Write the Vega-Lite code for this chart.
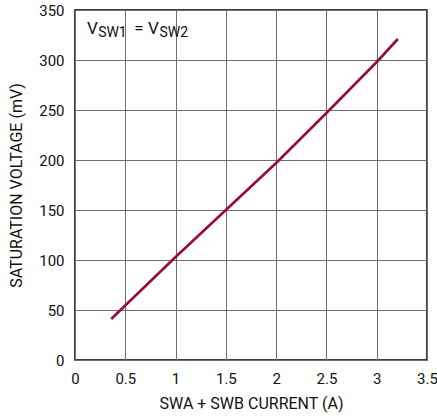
{
  "$schema": "https://vega.github.io/schema/vega-lite/v6.json",
  "width": 352,
  "height": 350,
  "autosize": {"type": "none"},
  "padding": {"left": 75, "right": 10, "top": 10, "bottom": 59},
  "background": "white",
  "config": {
    "font": "Roboto",
    "view": {"stroke": "#000000", "strokeWidth": 1.5},
    "axis": {
      "grid": true,
      "gridColor": "#6e6e6e",
      "gridWidth": 1,
      "gridOpacity": 1,
      "domain": false,
      "ticks": false,
      "labelFont": "Roboto",
      "labelFontSize": 15,
      "labelColor": "#111111",
      "titleFont": "Roboto",
      "titleFontSize": 16,
      "titleFontWeight": "normal",
      "titleColor": "#111111"
    }
  },
  "layer": [
    {
      "data": {
        "values": [
          {"current": 0.36, "voltage": 41},
          {"current": 1.0, "voltage": 103},
          {"current": 1.5, "voltage": 150},
          {"current": 2.0, "voltage": 197},
          {"current": 2.5, "voltage": 247},
          {"current": 3.0, "voltage": 298},
          {"current": 3.21, "voltage": 321}
        ]
      },
      "mark": {"type": "line", "color": "#9b0a3c", "strokeWidth": 2.6, "strokeCap": "butt"},
      "encoding": {
        "x": {
          "field": "current", "type": "quantitative",
          "scale": {"domain": [0, 3.5], "nice": false},
          "axis": {"values": [0, 0.5, 1, 1.5, 2, 2.5, 3, 3.5], "labelExpr": "datum.value", "labelPadding": 11, "title": "SWA + SWB CURRENT (A)", "titlePadding": 9, "labelFlush": false}
        },
        "y": {
          "field": "voltage", "type": "quantitative",
          "scale": {"domain": [0, 350], "nice": false},
          "axis": {"values": [0, 50, 100, 150, 200, 250, 300, 350], "labelPadding": 11, "title": "SATURATION VOLTAGE (mV)", "titlePadding": 14, "labelFlush": false}
        }
      }
    },
    {
      "data": {
        "values": [
          {"t": "V", "x": 0.12, "y": 326},
          {"t": "= V", "x": 0.59, "y": 326}
        ]
      },
      "mark": {"type": "text", "align": "left", "baseline": "alphabetic", "fontSize": 17, "color": "#111111", "font": "Roboto"},
      "encoding": {
        "x": {"field": "x", "type": "quantitative"},
        "y": {"field": "y", "type": "quantitative"},
        "text": {"field": "t"}
      }
    },
    {
      "data": {
        "values": [
          {"t": "SW1", "x": 0.23, "y": 323},
          {"t": "SW2", "x": 0.84, "y": 323}
        ]
      },
      "mark": {"type": "text", "align": "left", "baseline": "alphabetic", "fontSize": 14, "color": "#111111", "font": "Roboto"},
      "encoding": {
        "x": {"field": "x", "type": "quantitative"},
        "y": {"field": "y", "type": "quantitative"},
        "text": {"field": "t"}
      }
    }
  ]
}
